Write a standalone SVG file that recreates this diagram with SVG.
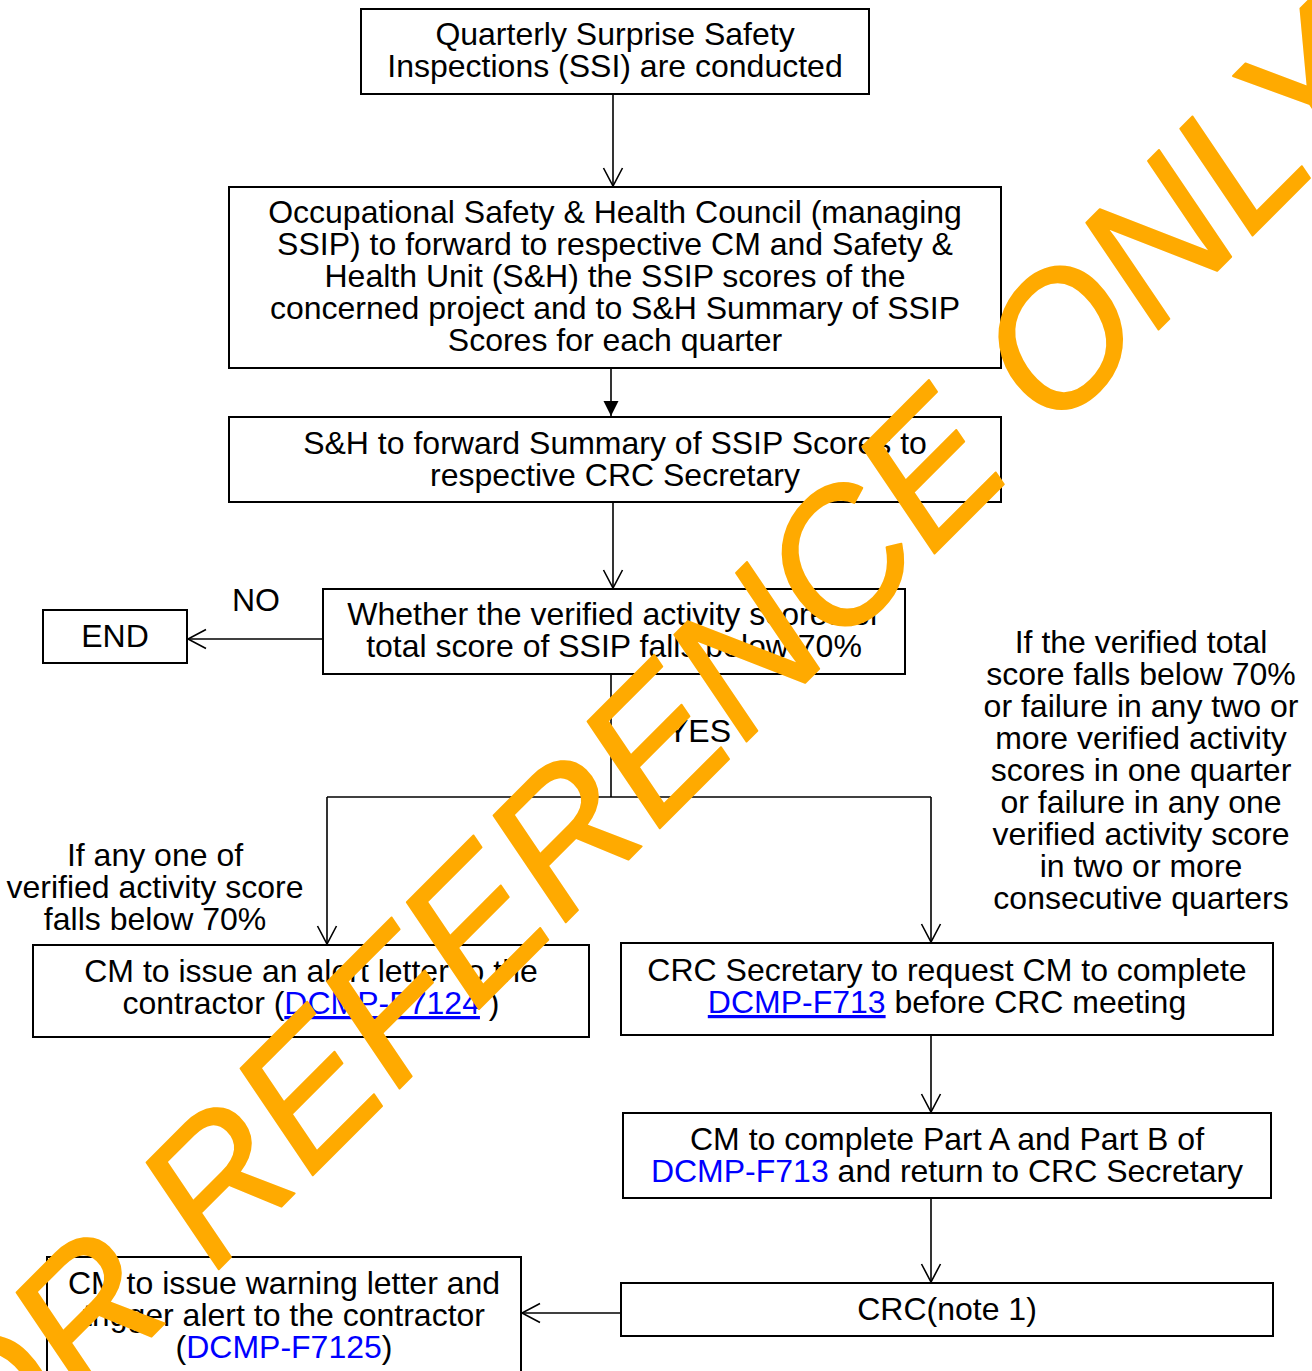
<svg xmlns="http://www.w3.org/2000/svg" width="1312" height="1371" viewBox="0 0 1312 1371">
<style>
.box{fill:#fff;stroke:#000;stroke-width:2}
.t{font-family:"Liberation Sans",Arial,sans-serif;font-size:32px;fill:#000;text-anchor:middle}
.lk{fill:#0000ff}
.ul{text-decoration:underline}
.c{fill:none;stroke:#000;stroke-width:1.6}
.wm{font-family:"Liberation Sans",Arial,sans-serif;font-size:184px;font-style:italic;fill:#ffaa00;stroke:#ffaa00;stroke-width:2;stroke-linejoin:round}
</style>
<defs>
<marker id="open" viewBox="0 0 22 22" refX="19" refY="11" markerWidth="22" markerHeight="22" markerUnits="userSpaceOnUse" orient="auto">
<path d="M1,1.5 L19,11 L1,20.5" fill="none" stroke="#000" stroke-width="1.6"/>
</marker>
<marker id="fill" viewBox="0 0 16 16" refX="15" refY="8" markerWidth="16" markerHeight="16" markerUnits="userSpaceOnUse" orient="auto">
<path d="M0,0.5 L15,8 L0,15.5 Z" fill="#000"/>
</marker>
</defs>
<rect width="1312" height="1371" fill="#fff"/>

<g id="connectors">
<line class="c" x1="613" y1="94" x2="613" y2="186" marker-end="url(#open)"/>
<line class="c" x1="611" y1="368" x2="611" y2="416" marker-end="url(#fill)"/>
<line class="c" x1="613" y1="502" x2="613" y2="588" marker-end="url(#open)"/>
<line class="c" x1="323" y1="639" x2="188" y2="639" marker-end="url(#open)"/>
<polyline class="c" points="611,674 611,797"/>
<polyline class="c" points="327,797 931,797"/>
<line class="c" x1="327" y1="797" x2="327" y2="944" marker-end="url(#open)"/>
<line class="c" x1="931" y1="797" x2="931" y2="942" marker-end="url(#open)"/>
<line class="c" x1="931" y1="1035" x2="931" y2="1112" marker-end="url(#open)"/>
<line class="c" x1="931" y1="1198" x2="931" y2="1282" marker-end="url(#open)"/>
<line class="c" x1="621" y1="1313" x2="522" y2="1313" marker-end="url(#open)"/>
</g>

<g id="n-ssi">
<rect class="box" x="361" y="9" width="508" height="85"/>
<text class="t" x="615" y="45">Quarterly Surprise Safety</text>
<text class="t" x="615" y="77">Inspections (SSI) are conducted</text>
</g>

<g id="n-oshc">
<rect class="box" x="229" y="187" width="772" height="181"/>
<text class="t" x="615" y="223">Occupational Safety &amp; Health Council (managing</text>
<text class="t" x="615" y="255">SSIP) to forward to respective CM and Safety &amp;</text>
<text class="t" x="615" y="287">Health Unit (S&amp;H) the SSIP scores of the</text>
<text class="t" x="615" y="319">concerned project and to S&amp;H Summary of SSIP</text>
<text class="t" x="615" y="351">Scores for each quarter</text>
</g>

<g id="n-sh">
<rect class="box" x="229" y="417" width="772" height="85"/>
<text class="t" x="615" y="454">S&amp;H to forward Summary of SSIP Scores to</text>
<text class="t" x="615" y="486">respective CRC Secretary</text>
</g>

<g id="n-decision">
<rect class="box" x="323" y="589" width="582" height="85"/>
<text class="t" x="614" y="625">Whether the verified activity scores or</text>
<text class="t" x="614" y="657">total score of SSIP falls below 70%</text>
</g>

<g id="n-end">
<rect class="box" x="43" y="610" width="144" height="53"/>
<text class="t" x="115" y="647">END</text>
</g>

<g id="labels">
<text class="t" x="256" y="611">NO</text>
<text class="t" x="699" y="742">YES</text>
<text class="t" x="155" y="866">If any one of</text>
<text class="t" x="155" y="898">verified activity score</text>
<text class="t" x="155" y="930">falls below 70%</text>
<text class="t" x="1141" y="653">If the verified total</text>
<text class="t" x="1141" y="685">score falls below 70%</text>
<text class="t" x="1141" y="717">or failure in any two or</text>
<text class="t" x="1141" y="749">more verified activity</text>
<text class="t" x="1141" y="781">scores in one quarter</text>
<text class="t" x="1141" y="813">or failure in any one</text>
<text class="t" x="1141" y="845">verified activity score</text>
<text class="t" x="1141" y="877">in two or more</text>
<text class="t" x="1141" y="909">consecutive quarters</text>
</g>

<g id="n-alert">
<rect class="box" x="33" y="945" width="556" height="92"/>
<text class="t" x="311" y="982">CM to issue an alert letter to the</text>
<text class="t" x="311" y="1014">contractor (<tspan class="lk ul">DCMP-F7124</tspan> )</text>
</g>

<g id="n-crcsec">
<rect class="box" x="621" y="943" width="652" height="92"/>
<text class="t" x="947" y="981">CRC Secretary to request CM to complete</text>
<text class="t" x="947" y="1013"><tspan class="lk ul">DCMP-F713</tspan> before CRC meeting</text>
</g>

<g id="n-parta">
<rect class="box" x="623" y="1113" width="648" height="85"/>
<text class="t" x="947" y="1150">CM to complete Part A and Part B of</text>
<text class="t" x="947" y="1182"><tspan class="lk">DCMP-F713</tspan> and return to CRC Secretary</text>
</g>

<g id="n-crc">
<rect class="box" x="621" y="1283" width="652" height="53"/>
<text class="t" x="947" y="1320">CRC(note 1)</text>
</g>

<g id="n-warning">
<rect class="box" x="47" y="1257" width="474" height="130"/>
<text class="t" x="284" y="1294">CM to issue warning letter and</text>
<text class="t" x="284" y="1326">trigger alert to the contractor</text>
<text class="t" x="284" y="1358">(<tspan class="lk">DCMP-F7125</tspan>)</text>
</g>

<g id="watermark">
<text class="wm" transform="translate(-96,1584) rotate(-45)" x="0" y="0">FOR REFERENCE ONLY</text>
</g>
</svg>
